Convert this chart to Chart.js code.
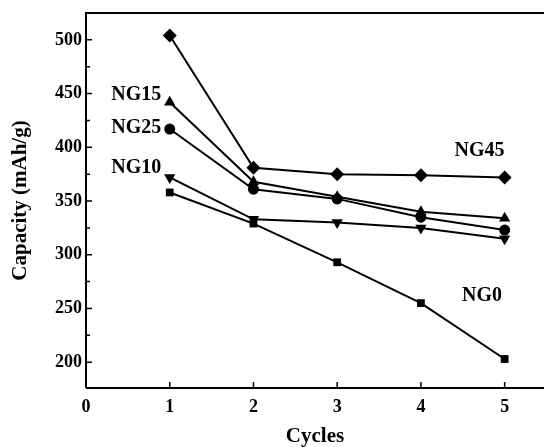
<!DOCTYPE html>
<html>
<head>
<meta charset="utf-8">
<script src="https://cdn.jsdelivr.net/npm/chart.js@4/dist/chart.umd.min.js"></script>
<style>
  html, body { margin: 0; padding: 0; background: #fff; overflow: hidden; }
  #wrap { width: 551px; height: 447px; position: relative; }
</style>
</head>
<body>
<div id="wrap"><canvas id="c"></canvas></div>
<script>
// Zyklen und Kapazitäten (mAh/g)
const cycles = [1, 2, 3, 4, 5];
const ng0  = [358, 329, 293, 255, 203];
const ng10 = [372, 333, 330, 325, 315];
const ng15 = [442, 368, 354, 340, 334];
const ng25 = [417, 361, 352, 335, 323];
const ng45 = [504, 381, 375, 374, 372];
const xTicks = [0, 1, 2, 3, 4, 5];
const yTicks = [200, 250, 300, 350, 400, 450, 500];
const yMinor = [225, 275, 325, 375, 425, 475];

const FONT = "'Liberation Serif', 'DejaVu Serif', serif";

const pts = (arr) => cycles.map((c, i) => ({ x: c, y: arr[i] }));

const mkSet = (label, arr, style, radius, rot) => ({
    label,
    data: pts(arr),
    borderColor: "#000",
    backgroundColor: "#000",
    borderWidth: 2,
    pointStyle: style,
    pointRotation: rot || 0,
    pointRadius: radius,
    pointBorderWidth: 0,
    tension: 0,
});

// Beschriftungen der Kurven (in Datenkoordinaten)
const seriesLabels = [
    { text: "NG15", x: 0.6, y: 449 },
    { text: "NG25", x: 0.6, y: 418 },
    { text: "NG10", x: 0.6, y: 381 },
    { text: "NG45", x: 4.7, y: 397 },
    { text: "NG0",  x: 4.73, y: 262 },
];

const frame = {
    id: "frame",
    afterDatasetsDraw(chart) {
        const { ctx, chartArea: a, scales: { x, y } } = chart;
        ctx.save();
        ctx.strokeStyle = "#000";
        ctx.lineWidth = 2;
        ctx.beginPath();
        ctx.moveTo(a.left, a.bottom);
        ctx.lineTo(a.left, a.top);
        ctx.lineTo(a.right, a.top);
        ctx.moveTo(a.left, a.bottom);
        ctx.lineTo(a.right, a.bottom);
        ctx.stroke();
        // Ticks nach innen
        ctx.lineWidth = 1.5;
        ctx.beginPath();
        yTicks.forEach(v => { const p = y.getPixelForValue(v); ctx.moveTo(a.left, p); ctx.lineTo(a.left + 6, p); });
        yMinor.forEach(v => { const p = y.getPixelForValue(v); ctx.moveTo(a.left, p); ctx.lineTo(a.left + 4, p); });
        xTicks.forEach(v => { const p = x.getPixelForValue(v); ctx.moveTo(p, a.bottom); ctx.lineTo(p, a.bottom - 6); });
        ctx.stroke();
        // Kurvennamen
        ctx.fillStyle = "#000";
        ctx.font = "bold 20px " + FONT;
        ctx.textAlign = "center";
        ctx.textBaseline = "middle";
        seriesLabels.forEach(l => ctx.fillText(l.text, x.getPixelForValue(l.x), y.getPixelForValue(l.y)));
        ctx.restore();
    }
};

new Chart(document.getElementById("c"), {
    type: "line",
    data: {
        datasets: [
            mkSet("NG0", ng0, "rect", 5.5),
            mkSet("NG10", ng10, "triangle", 6.5, 180),
            mkSet("NG15", ng15, "triangle", 6.5),
            mkSet("NG25", ng25, "circle", 5.5),
            mkSet("NG45", ng45, "rectRot", 7),
        ],
    },
    options: {
        responsive: true,
        maintainAspectRatio: false,
        animation: false,
        layout: { padding: { left: 0, right: 0, top: 12, bottom: 0 } },
        plugins: { legend: { display: false }, tooltip: { enabled: false } },
        scales: {
            x: {
                type: "linear",
                min: 0,
                max: 5.47,
                grid: { display: false, drawTicks: false },
                border: { display: false },
                afterBuildTicks: (s) => { s.ticks = xTicks.map(v => ({ value: v })); },
                afterFit: (s) => { s.height = 59; },
                ticks: {
                    color: "#000",
                    padding: 9,
                    font: { family: FONT, size: 18, weight: "bold" },
                },
                title: {
                    display: true,
                    text: "Cycles",
                    color: "#000",
                    padding: { top: 4, bottom: 0 },
                    font: { family: FONT, size: 21, weight: "bold", lineHeight: 1 },
                },
            },
            y: {
                min: 176,
                max: 525,
                grid: { display: false, drawTicks: false },
                border: { display: false },
                afterBuildTicks: (s) => { s.ticks = yTicks.map(v => ({ value: v })); },
                afterFit: (s) => { s.width = 86; },
                ticks: {
                    color: "#000",
                    padding: 4,
                    font: { family: FONT, size: 18, weight: "bold", lineHeight: 1 },
                },
                title: {
                    display: true,
                    text: "Capacity (mAh/g)",
                    color: "#000",
                    padding: { top: 8, bottom: 4 },
                    font: { family: FONT, size: 21, weight: "bold" },
                },
            },
        },
    },
    plugins: [frame],
});
</script>
</body>
</html>
